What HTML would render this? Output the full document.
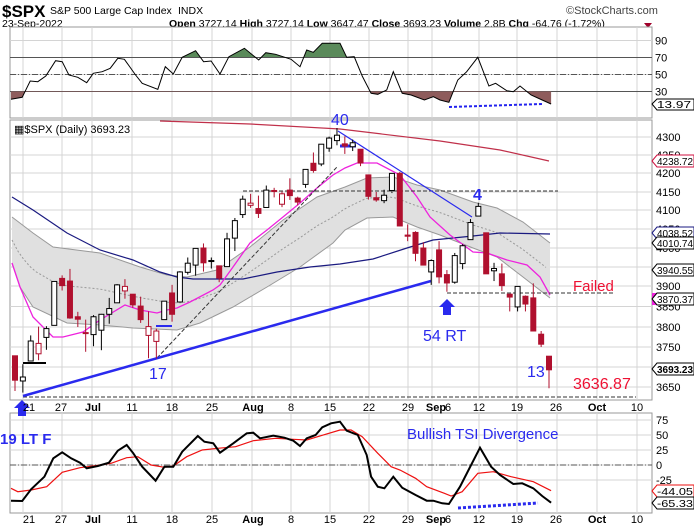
<!DOCTYPE html>
<html><head><meta charset="utf-8"><style>
html,body{margin:0;padding:0;background:#fff;}
svg{display:block;font-family:"Liberation Sans",Arial,sans-serif;}
</style></head><body>
<svg id="c" width="694" height="527" viewBox="0 0 694 527" xmlns="http://www.w3.org/2000/svg">
<defs>
<clipPath id="above70"><rect x="10" y="27" width="645" height="30"/></clipPath>
<clipPath id="below30"><rect x="10" y="91" width="645" height="27"/></clipPath>
</defs>
<rect width="694" height="527" fill="#fff"/>
<text x="2" y="17" font-size="17" font-weight="bold">$SPX</text>
<text x="50" y="14" font-size="10.5">S&amp;P 500 Large Cap Index</text>
<text x="178" y="14" font-size="10.5">INDX</text>
<text x="2" y="27" font-size="10.5">23-Sep-2022</text>
<text x="169" y="27" font-size="10.5"><tspan font-weight="bold">Open</tspan> 3727.14 <tspan font-weight="bold">High</tspan> 3727.14 <tspan font-weight="bold">Low</tspan> 3647.47 <tspan font-weight="bold">Close</tspan> 3693.23 <tspan font-weight="bold">Volume</tspan> 2.8B <tspan font-weight="bold">Chg</tspan> -64.76 (-1.72%)</text>
<path d="M644 23 L652 23 L648 28Z" fill="#a0002a"/>
<text x="566" y="14" font-size="11" fill="#444">©StockCharts.com</text>
<g id="g"></g>
</svg>
<script>
const NS="http://www.w3.org/2000/svg",G=document.getElementById('g');
function el(t,a,txt){const e=document.createElementNS(NS,t);for(const k in a)e.setAttribute(k,a[k]);if(txt!==undefined)e.textContent=txt;G.appendChild(e);return e;}
function pl(pts,a){a.points=pts.map(p=>p.join(',')).join(' ');a.fill=a.fill||'none';return el('polyline',a);}
const L=10,R=652;
const vx=[23,62,92,132,172,212,252,291,330,369,408,432,479,517,557,597,637];
function panel(y1,y2){
 el('rect',{x:L,y:y1,width:R-L,height:y2-y1,fill:'#fff',stroke:'#999'});
 vx.forEach(x=>el('line',{x1:x,y1:y1,x2:x,y2:y2,stroke:'#d4d4d4'}));
}
panel(27,118);panel(120,400);panel(413,513);
function ry(v){return 117-v*0.85;}
[90,70,50,30].forEach(v=>{el('line',{x1:L,x2:R,y1:ry(v),y2:ry(v),stroke:'#d4d4d4'});el('text',{x:655,y:ry(v)+4,'font-size':11},String(v));});
el('line',{x1:L,x2:R,y1:ry(70),y2:ry(70),stroke:'#555'});
el('line',{x1:L,x2:R,y1:ry(30),y2:ry(30),stroke:'#555'});
el('line',{x1:L,x2:R,y1:ry(50),y2:ry(50),stroke:'#555','stroke-dasharray':'6,2,1,2'});
const rsiZ=[[30,298],[50,292],[68,243],[85,245],[103,228],[125,182],[140,185],[155,225],[175,232],[195,248],[210,220],[230,215],[248,205],[265,175],[280,178],[305,225],[320,250],[355,268],[372,200],[390,222],[410,172],[440,152],[458,185],[475,183],[495,222],[515,170],[550,145],[582,180],[598,158],[620,163],[655,178],[675,200],[690,150],[705,157],[725,130],[765,130],[780,172],[797,170],[815,228],[835,280],[850,283],[870,270],[885,215],[905,280],[925,285],[955,300],[975,290],[990,300],[1010,307],[1030,240],[1050,215],[1075,172],[1100,258],[1115,250],[1140,272],[1155,275],[1170,258],[1195,285],[1220,300],[1240,312]];
const rsi=rsiZ.map(p=>[+(p[0]/2.25).toFixed(1),+(p[1]/3).toFixed(1)]);
rsi[0][0]=11;
const rp=rsi.map(p=>p.join(',')).join(' ');
el('polygon',{points:`${rsi[0][0]},${ry(70)} ${rp} ${rsi[rsi.length-1][0]},${ry(70)}`,fill:'#5a8a5a','clip-path':'url(#above70)'});
el('polygon',{points:`${rsi[0][0]},${ry(30)} ${rp} ${rsi[rsi.length-1][0]},${ry(30)}`,fill:'#8e5c5c','clip-path':'url(#below30)'});
pl(rsi,{stroke:'#000','stroke-width':1});
el('line',{x1:449,y1:107,x2:542,y2:104,stroke:'#2222ee','stroke-width':2,'stroke-dasharray':'3,2'});
el('path',{d:'M652 104 L657 99 L694 99 L694 110 L657 110Z',fill:'#fff',stroke:'#000'});
el('text',{x:657,y:108,'font-size':10.5,textLength:34,lengthAdjust:'spacingAndGlyphs'},'13.97');
const PY=[[4300,137],[4200,173],[4150,192],[4100,210],[3900,286],[3800,327],[3650,387]];
function y(p){for(let i=0;i<PY.length-1;i++){const a=PY[i],b=PY[i+1];if(p>=b[0]||i==PY.length-2){return a[1]+(a[0]-p)*(b[1]-a[1])/(a[0]-b[0]);}}}
for(let p=3650;p<=4300;p+=50){const yy=y(p);el('line',{x1:L,x2:R,y1:yy,y2:yy,stroke:'#d4d4d4'});el('text',{x:656,y:yy+4,'font-size':11},String(p));}
el('text',{x:14,y:133,'font-size':11},'▦$SPX (Daily) 3693.23');
const up=[[12,217],[33,233],[53,247],[100,253],[140,267],[167,275],[187,277],[217,270],[250,247],[283,220],[317,197],[345,187],[367,178],[393,177],[417,185],[440,190],[473,202],[497,208],[523,222],[550,243]];
const lo=[[12,263],[20,287],[33,307],[67,323],[100,325],[133,328],[177,330],[200,323],[233,307],[267,287],[300,267],[333,243],[345,230],[367,218],[393,217],[417,227],[440,235],[473,248],[497,257],[523,277],[550,298]];
el('polygon',{points:up.concat(lo.slice().reverse()).map(p=>p.join(',')).join(' '),fill:'#e0e0e0'});
pl(up,{stroke:'#999'});pl(lo,{stroke:'#999'});
function interp(arr,x){for(let i=0;i<arr.length-1;i++){if(x<=arr[i+1][0]){const t=(x-arr[i][0])/(arr[i+1][0]-arr[i][0]);return arr[i][1]+t*(arr[i+1][1]-arr[i][1]);}}return arr[arr.length-1][1];}
const mid=[];for(let x=12;x<=550;x+=6)mid.push([x,(interp(up,x)+interp(lo,x))/2]);
pl(mid,{stroke:'#999','stroke-dasharray':'2,2'});
pl([[160,121],[250,124],[340,129],[440,141],[500,150],[549,161]],{stroke:'#c0304a','stroke-width':1.2});
pl([[12,197],[33,210],[67,233],[100,250],[133,260],[160,272],[177,277],[193,279],[243,279],[277,272],[310,267],[340,264],[373,259],[407,248],[433,240],[473,236],[500,233],[550,234]],{stroke:'#1a1a80','stroke-width':1.2});
pl([[12,263],[20,287],[33,317],[53,337],[63,337],[83,332],[100,320],[125,305],[140,310],[157,313],[167,310],[177,308],[190,302],[213,290],[220,285],[233,267],[250,243],[267,230],[283,217],[300,203],[317,188],[333,175],[345,168],[357,163],[377,163],[400,175],[417,197],[430,217],[450,235],[473,252],[487,253],[507,260],[527,265],[540,277],[550,295]],{stroke:'#ee22dd','stroke-width':1.3});
el('line',{x1:243,y1:191,x2:558,y2:191,stroke:'#333','stroke-dasharray':'4,2'});
el('line',{x1:23,y1:397,x2:636,y2:397,stroke:'#333','stroke-dasharray':'4,2'});
el('line',{x1:447,y1:293,x2:613,y2:293,stroke:'#333','stroke-dasharray':'4,2'});
el('line',{x1:157,y1:358,x2:337,y2:167,stroke:'#333','stroke-dasharray':'4,2'});
el('line',{x1:23,y1:396,x2:431,y2:281,stroke:'#2a2aee','stroke-width':2.5});
el('line',{x1:338,y1:131,x2:472,y2:217,stroke:'#2a2aee','stroke-width':1.2});
el('line',{x1:23,y1:363,x2:46,y2:363,stroke:'#000','stroke-width':2});
el('line',{x1:156,y1:326,x2:172,y2:326,stroke:'#2a2aee','stroke-width':2});
el('line',{x1:340,y1:146,x2:356,y2:146,stroke:'#2a2aee','stroke-width':3});
const D=[[3728,3728,3640,3667],[3665,3707,3636,3675],[3715,3779,3715,3765],[3733,3801,3717,3759],[3774,3802,3743,3796],[3804,3913,3804,3912],[3920,3928,3889,3901],[3913,3945,3820,3822],[3825,3837,3800,3819],[3786,3818,3738,3785],[3781,3829,3752,3825],[3792,3832,3742,3831],[3831,3871,3808,3845],[3859,3905,3859,3903],[3888,3918,3869,3899],[3880,3880,3847,3854],[3851,3874,3810,3818],[3779,3838,3722,3801],[3764,3796,3721,3790],[3818,3863,3818,3863],[3883,3903,3813,3831],[3861,3939,3861,3937],[3936,3975,3930,3960],[3955,3999,3927,3999],[4000,4012,3938,3961],[3965,3975,3946,3967],[3953,3953,3910,3921],[3951,4040,3951,4024],[4026,4079,3992,4072],[4088,4140,4079,4130],[4113,4145,4106,4119],[4104,4140,4079,4091],[4107,4167,4107,4155],[4154,4161,4135,4152],[4116,4151,4108,4145],[4155,4186,4128,4140],[4133,4137,4113,4122],[4170,4211,4161,4210],[4227,4257,4201,4207],[4225,4280,4219,4280],[4269,4301,4259,4297],[4290,4325,4277,4305],[4281,4302,4253,4275],[4273,4293,4261,4284],[4266,4266,4219,4228],[4195,4195,4129,4138],[4134,4150,4123,4128],[4126,4156,4119,4141],[4154,4200,4147,4199],[4199,4203,4057,4058],[4034,4062,4018,4031],[4041,4044,3965,3986],[4000,4015,3954,3955],[3937,3970,3903,3967],[3995,4018,3907,3924],[3930,3942,3886,3908],[3910,3987,3906,3980],[3959,4010,3944,4006],[4022,4076,4022,4067],[4084,4120,4084,4110],[4040,4040,3933,3932],[3940,3961,3913,3946],[3932,3959,3888,3901],[3880,3880,3838,3873],[3849,3900,3838,3899],[3875,3877,3838,3856],[3871,3907,3789,3790],[3782,3790,3750,3757],[3727,3727,3647,3693]];
const step=(549-15)/(D.length-1);
D.forEach((d,i)=>{const x=15+i*step;const prev=i?D[i-1][3]:9999;const col=d[3]>=prev?'#000':'#b0102e';
 el('line',{x1:x,x2:x,y1:y(d[1]),y2:y(d[2]),stroke:col});
 const t=y(Math.max(d[0],d[3])),b=y(Math.min(d[0],d[3]));
 el('rect',{x:x-2.5,y:t,width:5,height:Math.max(1,b-t),fill:d[3]>=d[0]?'#fff':col,stroke:col});});
const B='#2a2aee';
el('text',{x:331,y:125,'font-size':16,fill:B},'40');
el('text',{x:473,y:200,'font-size':16,fill:B,'font-weight':'bold'},'4');
el('text',{x:149,y:379,'font-size':16,fill:B},'17');
el('text',{x:423,y:341,'font-size':16,fill:B},'54 RT');
el('text',{x:527,y:377,'font-size':16,fill:B},'13');
el('text',{x:573,y:389,'font-size':16,fill:'#ee1133'},'3636.87');
el('text',{x:573,y:291,'font-size':15,fill:'#ee1133'},'Failed');
el('path',{d:'M447 299 L455 307 L451 307 L451 315 L443 315 L443 307 L439 307Z',fill:B});
el('path',{d:'M22 400 L30 408 L26 408 L26 416 L18 416 L18 408 L14 408Z',fill:B});
function tag(yy,txt,col,bold){el('path',{d:`M652 ${yy} L657 ${yy-6} L694 ${yy-6} L694 ${yy+6} L657 ${yy+6}Z`,fill:'#fff',stroke:col});el('text',{x:657,y:yy+4,'font-size':10.5,'font-weight':bold?'bold':'normal',textLength:36,lengthAdjust:'spacingAndGlyphs'},txt);}
tag(161,'4238.72','#d01040');tag(233,'4038.52','#1a1a80');tag(243,'4010.74','#000');tag(270,'3940.55','#000');
el('rect',{x:652,y:293,width:8,height:12,fill:'#ee22dd'});
tag(299,'3870.37','#000');tag(369,'3693.23','#000',true);
function dates(yy){const lab=[[29,'21'],[61,'27'],[93,'Jul',1],[132,'11'],[172,'18'],[212,'25'],[253,'Aug',1],[291,'8'],[330,'15'],[369,'22'],[408,'29'],[436,'Sep',1],[448,'6'],[479,'12'],[517,'19'],[556,'26'],[597,'Oct',1],[637,'10']];
 lab.forEach(l=>el('text',{x:l[0],y:yy,'font-size':11,'text-anchor':'middle','font-weight':l[2]?'bold':'normal'},l[1]));}
dates(411);dates(523);
function ty(v){return 465-v*0.6;}
[75,50,25,0,-25].forEach(v=>{el('line',{x1:L,x2:R,y1:ty(v),y2:ty(v),stroke:'#d4d4d4'});el('text',{x:656,y:ty(v)+4,'font-size':11},String(v));});
el('line',{x1:L,x2:R,y1:ty(0),y2:ty(0),stroke:'#555','stroke-dasharray':'6,2,1,2'});
const tk=[[0,272],[50,273],[70,238],[100,200],[120,145],[140,127],[160,145],[180,158],[195,175],[220,168],[245,158],[265,122],[285,105],[300,130],[320,170],[350,212],[370,170],[390,170],[410,125],[445,78],[460,95],[480,100],[495,128],[525,100],[555,70],[570,68],[585,85],[615,77],[640,83],[660,92],[675,108],[690,85],[710,75],[725,52],[745,40],[765,35],[780,62],[805,75],[825,135],[835,200],[850,230],[865,235],[885,200],[905,233],[935,255],[960,272],[975,272],[995,280],[1010,282],[1035,230],[1060,165],[1080,113],[1105,170],[1125,195],[1155,222],[1175,220],[1200,235],[1220,258],[1240,278]];
const tr=[[0,235],[40,245],[70,240],[105,230],[140,187],[180,173],[210,168],[250,160],[285,143],[310,140],[340,165],[370,172],[390,168],[420,140],[455,120],[490,115],[530,110],[570,92],[620,85],[660,88],[690,90],[725,76],[765,60],[790,60],[815,80],[850,130],[880,170],[900,180],[935,205],[960,230],[1000,250],[1015,258],[1040,245],[1075,190],[1110,185],[1150,200],[1200,215],[1240,242]];
const cv=a=>a.map(p=>[Math.max(11,+(p[0]/2.25).toFixed(1)),+(p[1]/3+410).toFixed(1)]);
pl(cv(tr),{stroke:'#ee1111','stroke-width':1.2});
pl(cv(tk),{stroke:'#000','stroke-width':2});
el('line',{x1:458,y1:508,x2:538,y2:503,stroke:B,'stroke-width':3,'stroke-dasharray':'3,2'});
el('text',{x:0,y:444,'font-size':15,fill:B,'font-weight':'bold'},'19 LT F');
el('text',{x:407,y:439,'font-size':15,fill:B},'Bullish TSI Divergence');
tag(491,'-44.05','#ee1111');tag(503,'-65.33','#000');
</script>
</body></html>
